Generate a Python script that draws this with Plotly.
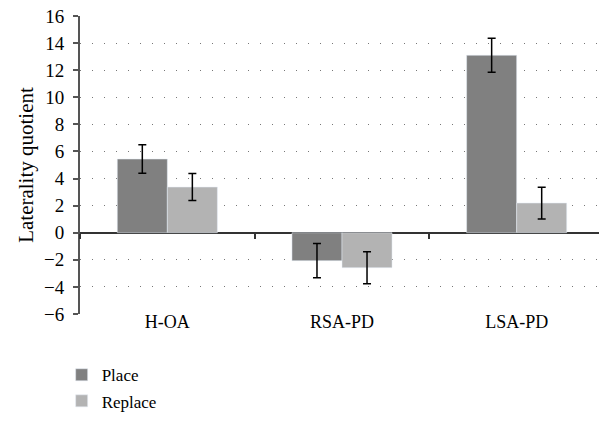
import plotly.graph_objects as go

categories = ["H-OA", "RSA-PD", "LSA-PD"]
place = [5.44, -2.06, 13.1]
place_err = [1.05, 1.27, 1.25]
replace = [3.37, -2.58, 2.19]
replace_err = [1.0, 1.18, 1.17]
y_ticks = list(range(-6, 17, 2))
y_min, y_max = -6, 16

serif = "Liberation Serif, Times New Roman, serif"

fig = go.Figure()
fig.add_trace(go.Bar(
    x=categories, y=place, name="Place", marker_color="#808080",
    error_y=dict(type="data", array=place_err, color="black", thickness=1.5, width=4),
    legendgroup="a",
))
fig.add_trace(go.Bar(
    x=categories, y=replace, name="Replace", marker_color="#b3b3b3",
    error_y=dict(type="data", array=replace_err, color="black", thickness=1.5, width=4),
    legendgroup="b",
))

fig.update_layout(
    width=599, height=419,
    margin=dict(l=72, r=3, t=8, b=113, autoexpand=False),
    paper_bgcolor="white", plot_bgcolor="white",
    font=dict(family=serif, size=17, color="black"),
    barmode="group", bargap=0.427, bargroupgap=0,
    showlegend=True,
    legend=dict(x=-0.035, y=-0.145, xanchor="left", yanchor="top",
                traceorder="grouped", tracegroupgap=1,
                font=dict(family=serif, size=17)),
    xaxis=dict(range=[-0.5, 2.5], showline=False, ticks="", showgrid=False,
               zeroline=False, automargin=False, ticklabelstandoff=-5,
               tickfont=dict(family=serif, size=18)),
    xaxis2=dict(overlaying="x", anchor="free", position=(0 - y_min) / (y_max - y_min),
                range=[-0.5, 2.5], tickvals=[-0.5, 0.5, 1.5, 2.5], ticks="outside",
                ticklen=5, tickwidth=1.5, tickcolor="#333", showticklabels=False,
                showline=False, showgrid=False, zeroline=False),
    yaxis=dict(range=[y_min, y_max], tickvals=y_ticks,
               ticktext=[("\u2212" + str(-v)) if v < 0 else str(v) for v in y_ticks],
               showline=True, linecolor="#555", linewidth=2,
               ticks="outside", ticklen=5, tickwidth=1.5, tickcolor="#555",
               ticklabeloverflow="allow", automargin=False, ticklabelstandoff=5,
               showgrid=True, gridcolor="#777", gridwidth=1, griddash="1px,11px",
               zeroline=True, zerolinecolor="#333", zerolinewidth=1.5,
               title=dict(text="Laterality quotient", font=dict(family=serif, size=21), standoff=5),
               tickfont=dict(family=serif, size=19)),
)
fig.add_trace(go.Scatter(x=[-0.5, 2.5], y=[0, 0], xaxis="x2", mode="lines",
                         line=dict(width=0), hoverinfo="skip", showlegend=False))

fig.write_html("out.html")
